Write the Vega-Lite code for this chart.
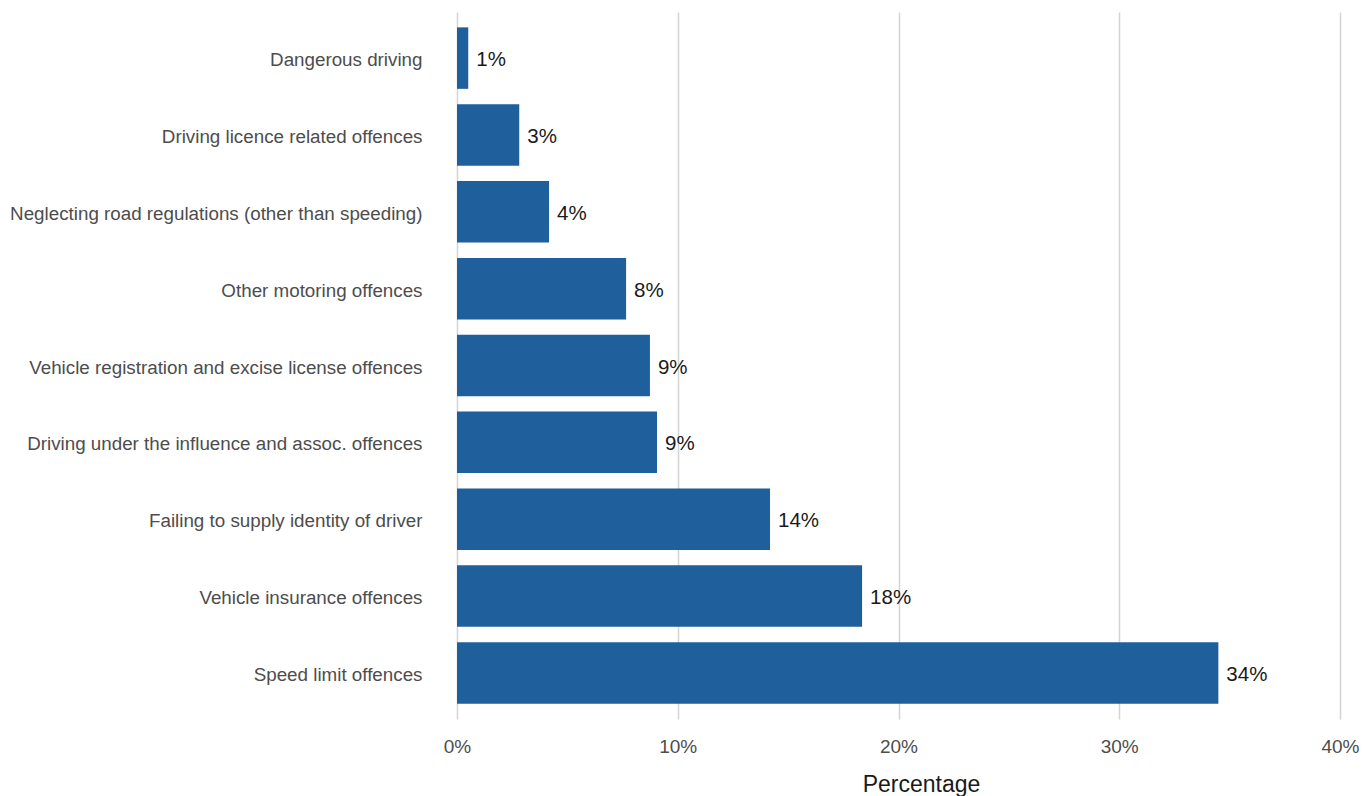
{
  "$schema": "https://vega.github.io/schema/vega-lite/v6.json",
  "width": 883,
  "height": 707,
  "autosize": {"type": "none"},
  "padding": {"left": 457, "top": 12, "right": 30, "bottom": 77},
  "background": "white",
  "config": {"view": {"stroke": null}, "font": "Liberation Sans"},
  "data": {
    "values": [
      {"offence": "Dangerous driving", "pct": 0.51, "label": "1%"},
      {"offence": "Driving licence related offences", "pct": 2.82, "label": "3%"},
      {"offence": "Neglecting road regulations (other than speeding)", "pct": 4.17, "label": "4%"},
      {"offence": "Other motoring offences", "pct": 7.66, "label": "8%"},
      {"offence": "Vehicle registration and excise license offences", "pct": 8.74, "label": "9%"},
      {"offence": "Driving under the influence and assoc. offences", "pct": 9.06, "label": "9%"},
      {"offence": "Failing to supply identity of driver", "pct": 14.18, "label": "14%"},
      {"offence": "Vehicle insurance offences", "pct": 18.35, "label": "18%"},
      {"offence": "Speed limit offences", "pct": 34.49, "label": "34%"}
    ]
  },
  "encoding": {
    "y": {
      "field": "offence",
      "type": "nominal",
      "sort": null,
      "scale": {"paddingInner": 0.2, "paddingOuter": 0.2},
      "axis": {
        "title": null,
        "domain": false,
        "ticks": false,
        "grid": false,
        "labelPadding": 35,
        "labelOffset": 2,
        "labelFontSize": 18.8,
        "labelColor": "#4D4D4D",
        "labelLimit": 600
      }
    },
    "x": {
      "field": "pct",
      "type": "quantitative",
      "scale": {"domain": [0, 40], "nice": false},
      "axis": {
        "title": "Percentage",
        "values": [0, 10, 20, 30, 40],
        "labelExpr": "datum.value + '%'",
        "labelFlush": false,
        "labelOverlap": false,
        "domain": false,
        "ticks": false,
        "grid": true,
        "gridColor": "#D4D4D4",
        "gridWidth": 1.5,
        "labelPadding": 18,
        "labelFontSize": 19,
        "labelColor": "#4D4D4D",
        "titleFontSize": 23,
        "titleFontWeight": "normal",
        "titleColor": "#1A1A1A",
        "titlePadding": 17,
        "titleX": 464
      }
    }
  },
  "layer": [
    {"mark": {"type": "bar", "color": "#1F5F9C"}},
    {
      "mark": {"type": "text", "align": "left", "baseline": "middle", "dx": 8, "dy": 2, "fontSize": 20.5, "color": "#1A1A1A"},
      "encoding": {"text": {"field": "label"}}
    }
  ]
}
